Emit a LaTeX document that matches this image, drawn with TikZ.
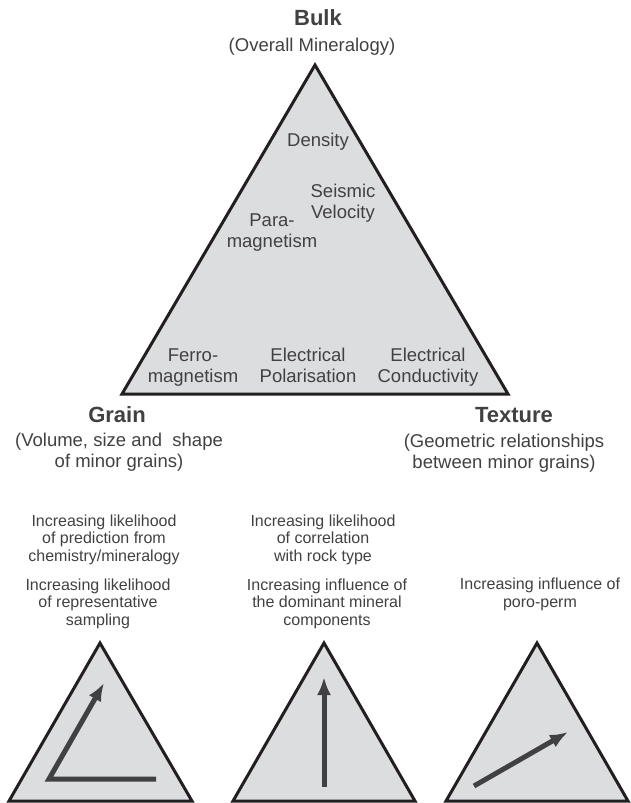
\documentclass[tikz,border=0pt]{standalone}
\usepackage{fontspec}
\setmainfont{Liberation Sans}
\usetikzlibrary{arrows.meta}

\definecolor{panel}{HTML}{DCDDDE}
\definecolor{ink}{HTML}{414042}
\definecolor{edge}{HTML}{231F20}

\tikzset{
  tri/.style={fill=panel, draw=edge, line width=3pt, line join=miter},
  lbl/.style={text=ink, align=center, font=\fontsize{18.5}{21}\selectfont, inner sep=0pt},
  head/.style={text=ink, font=\fontsize{22}{24}\selectfont\bfseries, inner sep=0pt},
  note/.style={text=ink, align=center, font=\fontsize{16}{17.5}\selectfont, inner sep=0pt},
  trend/.style={draw=ink, line width=5pt, line join=miter, -{Latex[length=18pt, width=14pt]}}
}

\begin{document}
\begin{tikzpicture} [x=1pt, y=-1pt]
\useasboundingbox (0,0) rectangle (631,803);

% main triangle
\filldraw[tri] (315,65) -- (122,394) -- (508,394) -- cycle;

\node[head] (bulk) at (318,18) {Bulk};
\node[lbl] (bulksub) at (312,47) {(Overall Mineralogy)\strut};

\node[lbl] (density) at (318,142) {Density\strut};
\node[lbl] (seismic) at (343,204) {Seismic\strut\\Velocity\strut};
\node[lbl] (para) at (272,233) {Para-\strut\\magnetism\strut};
\node[lbl] (ferro) at (193,368) {Ferro-\strut\\magnetism\strut};
\node[lbl] (polar) at (308,368) {Electrical\strut\\Polarisation\strut};
\node[lbl] (cond) at (428,368) {Electrical\strut\\Conductivity\strut};

\node[head] (grain) at (117,415) {Grain};
\node[lbl] (grainsub) at (119,453) {(Volume, size and\ \ shape\strut\\of minor grains)\strut};
\node[head] (texture) at (514,415) {Texture};
\node[lbl] (texturesub) at (504,454) {(Geometric relationships\strut\\between minor grains)\strut};

% notes above the small triangles
\node[note] (likeA) at (104,540) {Increasing likelihood\strut\\of prediction from\strut\\chemistry/mineralogy\strut};
\node[note] (sampA) at (98,604) {Increasing likelihood\strut\\of representative\strut\\sampling\strut};
\node[note] (likeB) at (323,540) {Increasing likelihood\strut\\of correlation\strut\\with rock type\strut};
\node[note] (domB) at (327,604) {Increasing influence of\strut\\the dominant mineral\strut\\components\strut};
\node[note] (poroC) at (540,595) {Increasing influence of\strut\\poro-perm\strut};

% small triangles
\filldraw[tri] (100,643) -- (9,801) -- (192,801) -- cycle;
\filldraw[tri] (324,643) -- (233,801) -- (415,801) -- cycle;
\filldraw[tri] (537,643) -- (446,801) -- (628,801) -- cycle;

\coordinate (aEnd) at (156,779);
\coordinate (aCorner) at (49,779);
\coordinate (aTip) at (104,683);
\coordinate (bStart) at (324,787);
\coordinate (bTip) at (324,677);
\coordinate (cStart) at (474,786);
\coordinate (cTip) at (568,732);

\draw[trend] (aEnd) -- (aCorner) -- (aTip);
\draw[trend] (bStart) -- (bTip);
\draw[trend] (cStart) -- (cTip);

\end{tikzpicture}
\end{document}
